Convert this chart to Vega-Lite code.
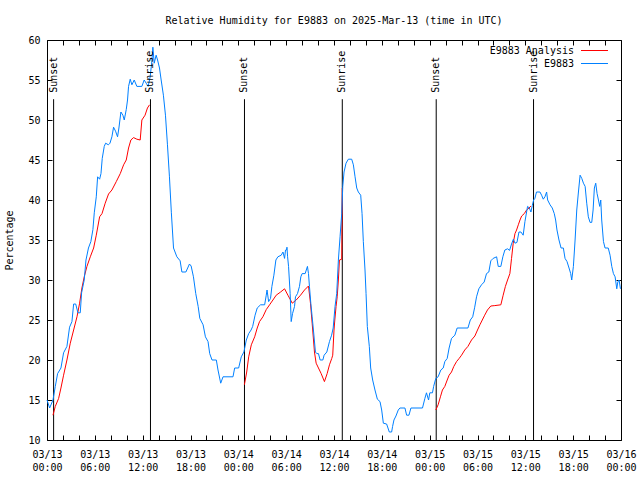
{
 "$schema": "https://vega.github.io/schema/vega-lite/v6.json",
 "width": 574, "height": 400,
 "autosize": {"type": "none"},
 "padding": {"left": 47, "top": 40, "right": 19, "bottom": 40},
 "background": "white",
 "title": {"text": "Relative Humidity for E9883 on 2025-Mar-13 (time in UTC)", "font": "DejaVu Sans Mono", "fontSize": 10, "fontWeight": "normal", "color": "black", "offset": 9, "anchor": "middle"},
 "config": {
  "view": {"stroke": "black", "strokeWidth": 1},
  "axis": {"domain": false, "grid": false, "tickColor": "black", "tickSize": -5, "labelFont": "DejaVu Sans Mono", "labelFontSize": 10, "labelColor": "black", "titleFont": "DejaVu Sans Mono", "titleFontSize": 10, "titleFontWeight": "normal", "titleColor": "black"}
 },
 "datasets": {
  "events": [
   {"h": 0.83, "event": "Sunset"}, {"h": 12.98, "event": "Sunrise"}, {"h": 24.77, "event": "Sunset"},
   {"h": 37.04, "event": "Sunrise"}, {"h": 48.82, "event": "Sunset"}, {"h": 61.03, "event": "Sunrise"}
  ],
  "analysis": [
   {"night":1,"h":0.75,"v":13.1},{"night":1,"h":1.04,"v":14.2},{"night":1,"h":1.46,"v":15.2},{"night":1,"h":1.75,"v":16.5},{"night":1,"h":2.08,"v":18.1},{"night":1,"h":2.5,"v":20},{"night":1,"h":2.92,"v":22.1},{"night":1,"h":3.34,"v":23.75},{"night":1,"h":3.76,"v":25.4},{"night":1,"h":4.09,"v":27.1},{"night":1,"h":4.38,"v":29},{"night":1,"h":4.67,"v":30.4},{"night":1,"h":5.01,"v":31.7},{"night":1,"h":5.43,"v":32.9},{"night":1,"h":5.85,"v":34},{"night":1,"h":6.18,"v":35.6},{"night":1,"h":6.6,"v":37.9},{"night":1,"h":6.9,"v":38.3},{"night":1,"h":7.3,"v":39.6},{"night":1,"h":7.72,"v":40.75},{"night":1,"h":8.14,"v":41.25},{"night":1,"h":8.69,"v":42.3},{"night":1,"h":9.19,"v":43.3},{"night":1,"h":9.61,"v":44.4},{"night":1,"h":9.94,"v":45},{"night":1,"h":10.23,"v":46.5},{"night":1,"h":10.52,"v":47.5},{"night":1,"h":10.86,"v":47.8},{"night":1,"h":11.27,"v":47.6},{"night":1,"h":11.69,"v":47.5},{"night":1,"h":11.9,"v":50},{"night":1,"h":12.3,"v":50.6},{"night":1,"h":12.6,"v":51.5},{"night":1,"h":12.86,"v":51.9},
   {"night":2,"h":24.76,"v":16.9},{"night":2,"h":25.05,"v":18.5},{"night":2,"h":25.3,"v":20.4},{"night":2,"h":25.63,"v":21.9},{"night":2,"h":26.05,"v":22.9},{"night":2,"h":26.37,"v":24},{"night":2,"h":26.66,"v":24.8},{"night":2,"h":27.08,"v":25.4},{"night":2,"h":27.5,"v":26.3},{"night":2,"h":27.92,"v":26.9},{"night":2,"h":28.34,"v":27.5},{"night":2,"h":28.75,"v":28.1},{"night":2,"h":29.3,"v":28.5},{"night":2,"h":29.8,"v":28.9},{"night":2,"h":30.22,"v":28.1},{"night":2,"h":30.55,"v":27.5},{"night":2,"h":30.76,"v":27.1},{"night":2,"h":31.26,"v":27.5},{"night":2,"h":31.8,"v":28.1},{"night":2,"h":32.3,"v":28.75},{"night":2,"h":32.8,"v":29.25},{"night":2,"h":33.05,"v":27.1},{"night":2,"h":33.26,"v":24.6},{"night":2,"h":33.55,"v":21},{"night":2,"h":33.76,"v":19.6},{"night":2,"h":34.05,"v":19},{"night":2,"h":34.39,"v":18.3},{"night":2,"h":34.8,"v":17.3},{"night":2,"h":35.14,"v":18.3},{"night":2,"h":35.43,"v":19.4},{"night":2,"h":35.72,"v":20.2},{"night":2,"h":35.84,"v":20.6},{"night":2,"h":36.0,"v":23.75},{"night":2,"h":36.1,"v":25},{"night":2,"h":36.26,"v":26.7},{"night":2,"h":36.4,"v":27.9},{"night":2,"h":36.55,"v":30},{"night":2,"h":36.68,"v":32.5},{"night":2,"h":36.97,"v":32.6},{"night":2,"h":37.04,"v":41.5},
   {"night":3,"h":48.77,"v":13.75},{"night":3,"h":49.06,"v":14.4},{"night":3,"h":49.35,"v":15.4},{"night":3,"h":49.6,"v":16.25},{"night":3,"h":49.9,"v":16.7},{"night":3,"h":50.2,"v":17.5},{"night":3,"h":50.44,"v":18.1},{"night":3,"h":50.74,"v":18.5},{"night":3,"h":51.03,"v":19.2},{"night":3,"h":51.37,"v":19.8},{"night":3,"h":51.7,"v":20.2},{"night":3,"h":52.0,"v":20.6},{"night":3,"h":52.4,"v":21.25},{"night":3,"h":52.8,"v":21.7},{"night":3,"h":53.25,"v":22.5},{"night":3,"h":53.67,"v":23},{"night":3,"h":54.0,"v":23.75},{"night":3,"h":54.3,"v":24.4},{"night":3,"h":54.6,"v":25},{"night":3,"h":54.9,"v":25.6},{"night":3,"h":55.25,"v":26.25},{"night":3,"h":55.67,"v":26.75},{"night":3,"h":56.17,"v":26.8},{"night":3,"h":56.93,"v":26.9},{"night":3,"h":57.22,"v":28.1},{"night":3,"h":57.5,"v":29.2},{"night":3,"h":57.77,"v":30},{"night":3,"h":58.06,"v":30.8},{"night":3,"h":58.27,"v":32.7},{"night":3,"h":58.48,"v":34.6},{"night":3,"h":58.7,"v":35.8},{"night":3,"h":58.9,"v":36.25},{"night":3,"h":59.12,"v":36.9},{"night":3,"h":59.33,"v":37.5},{"night":3,"h":59.54,"v":38},{"night":3,"h":59.87,"v":38.3},{"night":3,"h":60.16,"v":38.75},{"night":3,"h":60.46,"v":39},{"night":3,"h":60.7,"v":39.25}
  ],
  "obs": [
   {"h":0,"v":15},{"h":0.33,"v":14},{"h":0.75,"v":15},{"h":1.04,"v":16.7},{"h":1.33,"v":18.3},{"h":1.75,"v":19},{"h":2.08,"v":20.9},{"h":2.5,"v":21.7},{"h":2.83,"v":24.1},{"h":3.13,"v":24.8},{"h":3.34,"v":27},{"h":3.6,"v":27},{"h":3.88,"v":25.9},{"h":4.17,"v":25.9},{"h":4.34,"v":28.4},{"h":4.67,"v":30},{"h":4.89,"v":32.5},{"h":5.2,"v":34},{"h":5.5,"v":34.8},{"h":5.76,"v":36.3},{"h":5.93,"v":38.4},{"h":6.18,"v":40.4},{"h":6.35,"v":42.9},{"h":6.6,"v":42.6},{"h":6.77,"v":43.3},{"h":6.93,"v":45.2},{"h":7.18,"v":46.7},{"h":7.35,"v":47.1},{"h":7.7,"v":46.9},{"h":7.9,"v":47.1},{"h":8.14,"v":47.9},{"h":8.35,"v":49.1},{"h":8.6,"v":48.6},{"h":8.85,"v":47.9},{"h":9.02,"v":49},{"h":9.27,"v":51},{"h":9.52,"v":50.6},{"h":9.69,"v":50},{"h":9.94,"v":51.3},{"h":10.1,"v":52.5},{"h":10.23,"v":54.2},{"h":10.44,"v":55.1},{"h":10.65,"v":54.4},{"h":10.94,"v":55},{"h":11.27,"v":54.2},{"h":11.9,"v":54.2},{"h":12.19,"v":55},{"h":12.44,"v":54.6},{"h":12.69,"v":54.2},{"h":12.94,"v":55.4},{"h":13.15,"v":57.3},{"h":13.28,"v":59.1},{"h":13.45,"v":57.1},{"h":13.69,"v":58.1},{"h":13.87,"v":57.5},{"h":14.11,"v":56.5},{"h":14.32,"v":55},{"h":14.6,"v":53.1},{"h":14.86,"v":50.6},{"h":15.11,"v":46.9},{"h":15.36,"v":42.9},{"h":15.6,"v":38.4},{"h":15.87,"v":34},{"h":16.29,"v":32.9},{"h":16.7,"v":32.4},{"h":16.92,"v":31},{"h":17.42,"v":31},{"h":17.87,"v":32},{"h":18.08,"v":31.75},{"h":18.37,"v":30.4},{"h":18.66,"v":28.3},{"h":18.96,"v":26.7},{"h":19.17,"v":25.2},{"h":19.58,"v":24.4},{"h":19.87,"v":22.9},{"h":20.2,"v":22.3},{"h":20.41,"v":20.8},{"h":20.7,"v":20},{"h":21.24,"v":20},{"h":21.45,"v":18.75},{"h":21.79,"v":17.1},{"h":22.08,"v":17.9},{"h":23.33,"v":17.9},{"h":23.54,"v":19},{"h":24.04,"v":19},{"h":24.37,"v":20.4},{"h":24.7,"v":21},{"h":25,"v":22.5},{"h":25.3,"v":23.3},{"h":25.6,"v":23.75},{"h":25.8,"v":24.2},{"h":26.1,"v":25.6},{"h":26.37,"v":26.5},{"h":26.79,"v":26.9},{"h":27.3,"v":26.9},{"h":27.5,"v":28.1},{"h":27.6,"v":28.75},{"h":27.8,"v":27.3},{"h":28.04,"v":27.7},{"h":28.21,"v":29.2},{"h":28.46,"v":30.6},{"h":28.71,"v":32.5},{"h":28.96,"v":32.9},{"h":29.38,"v":33.1},{"h":29.6,"v":33.5},{"h":29.8,"v":32.7},{"h":29.92,"v":33.75},{"h":30.05,"v":33.75},{"h":30.1,"v":34.1},{"h":30.18,"v":32.9},{"h":30.3,"v":31.7},{"h":30.5,"v":28.3},{"h":30.63,"v":24.8},{"h":30.8,"v":25.8},{"h":31.05,"v":26.7},{"h":31.17,"v":27.9},{"h":31.42,"v":28.3},{"h":31.67,"v":29.2},{"h":31.84,"v":30.4},{"h":32,"v":30.8},{"h":32.38,"v":30.8},{"h":32.67,"v":31.7},{"h":32.8,"v":30.8},{"h":32.92,"v":29.2},{"h":33.09,"v":27.1},{"h":33.26,"v":25.4},{"h":33.42,"v":23.75},{"h":33.67,"v":21},{"h":33.84,"v":20.8},{"h":34.05,"v":20.8},{"h":34.26,"v":20},{"h":34.6,"v":20},{"h":34.76,"v":20.6},{"h":35.1,"v":21},{"h":35.43,"v":22.3},{"h":35.7,"v":23.1},{"h":35.9,"v":24},{"h":36.13,"v":26.7},{"h":36.34,"v":28.3},{"h":36.55,"v":32.5},{"h":36.76,"v":35.4},{"h":36.97,"v":38.3},{"h":37.1,"v":41.7},{"h":37.26,"v":43.5},{"h":37.51,"v":44.6},{"h":37.8,"v":45.1},{"h":38.22,"v":45.1},{"h":38.43,"v":44.4},{"h":38.64,"v":42.9},{"h":38.85,"v":41.5},{"h":39.05,"v":41},{"h":39.35,"v":40.6},{"h":39.52,"v":38.3},{"h":39.68,"v":34.8},{"h":39.89,"v":31.25},{"h":40.02,"v":28.3},{"h":40.18,"v":24.2},{"h":40.43,"v":21.7},{"h":40.6,"v":19},{"h":40.85,"v":17.5},{"h":41.14,"v":16.25},{"h":41.44,"v":15.1},{"h":41.77,"v":14.8},{"h":41.98,"v":13.75},{"h":42.19,"v":12.1},{"h":42.6,"v":12},{"h":42.94,"v":11},{"h":43.23,"v":11},{"h":43.35,"v":11.7},{"h":43.52,"v":12.5},{"h":43.77,"v":13},{"h":44.06,"v":13.75},{"h":44.27,"v":14},{"h":44.9,"v":14},{"h":45.11,"v":13.1},{"h":45.4,"v":13.1},{"h":45.65,"v":14},{"h":47.1,"v":14},{"h":47.4,"v":15.2},{"h":47.6,"v":15.9},{"h":47.86,"v":15},{"h":48.02,"v":15.9},{"h":48.35,"v":15.9},{"h":48.5,"v":16.7},{"h":48.77,"v":17.7},{"h":49.06,"v":17.9},{"h":49.4,"v":18.75},{"h":49.7,"v":19},{"h":49.9,"v":19.8},{"h":50.2,"v":20.2},{"h":50.44,"v":21.5},{"h":50.74,"v":22.7},{"h":51.16,"v":23.1},{"h":51.45,"v":24},{"h":52.8,"v":24},{"h":53.1,"v":25},{"h":53.4,"v":25.4},{"h":53.65,"v":26.6},{"h":53.88,"v":27.9},{"h":54.17,"v":28.9},{"h":54.5,"v":29.4},{"h":54.84,"v":29.75},{"h":55.13,"v":30.8},{"h":55.42,"v":31},{"h":55.67,"v":32.4},{"h":55.96,"v":32.7},{"h":56.4,"v":32.9},{"h":56.6,"v":31.7},{"h":56.93,"v":31.7},{"h":57.18,"v":32.9},{"h":57.43,"v":33.75},{"h":57.77,"v":33.9},{"h":58.02,"v":33.7},{"h":58.27,"v":34.5},{"h":58.5,"v":35.1},{"h":58.7,"v":34.6},{"h":58.95,"v":34.7},{"h":59.2,"v":36},{"h":59.45,"v":36},{"h":59.73,"v":35.6},{"h":59.95,"v":37.3},{"h":60.16,"v":38.5},{"h":60.28,"v":39.2},{"h":60.5,"v":39},{"h":60.7,"v":38.5},{"h":60.87,"v":39.3},{"h":61.04,"v":40},{"h":61.2,"v":40.2},{"h":61.4,"v":41},{"h":61.83,"v":41},{"h":62.04,"v":40.6},{"h":62.25,"v":40.1},{"h":62.46,"v":40.4},{"h":62.67,"v":41},{"h":62.8,"v":40},{"h":63.1,"v":39.4},{"h":63.38,"v":39},{"h":63.63,"v":38.3},{"h":63.8,"v":37.5},{"h":63.97,"v":36.25},{"h":64.22,"v":35},{"h":64.48,"v":34},{"h":64.77,"v":34},{"h":64.98,"v":32.7},{"h":65.23,"v":32.3},{"h":65.48,"v":31.5},{"h":65.69,"v":30.8},{"h":65.82,"v":30},{"h":66.03,"v":31.7},{"h":66.24,"v":35},{"h":66.45,"v":38.75},{"h":66.66,"v":41},{"h":66.87,"v":43.1},{"h":67.08,"v":42.7},{"h":67.29,"v":42.1},{"h":67.5,"v":41.7},{"h":67.7,"v":39.6},{"h":67.9,"v":37.9},{"h":68.12,"v":37.2},{"h":68.33,"v":37.2},{"h":68.5,"v":38.75},{"h":68.66,"v":41.5},{"h":68.83,"v":42.1},{"h":69.0,"v":40.8},{"h":69.17,"v":40},{"h":69.33,"v":39.2},{"h":69.46,"v":40},{"h":69.58,"v":37.5},{"h":69.8,"v":34.8},{"h":70.0,"v":34},{"h":70.4,"v":34},{"h":70.63,"v":33.1},{"h":70.84,"v":31.7},{"h":71.05,"v":30.8},{"h":71.26,"v":30.4},{"h":71.47,"v":28.9},{"h":71.6,"v":29.75},{"h":71.76,"v":30},{"h":71.93,"v":28.9}
  ]
 },
 "layer": [
  {
   "data": {"name": "events"},
   "mark": {"type": "rule", "color": "black", "strokeWidth": 1},
   "encoding": {
    "x": {"field": "h", "type": "quantitative", "scale": {"domain": [0, 72], "nice": false, "zero": false},
          "axis": {"orient": "top", "values": [0,2,4,6,8,10,12,14,16,18,20,22,24,26,28,30,32,34,36,38,40,42,44,46,48,50,52,54,56,58,60,62,64,66,68,70,72], "labels": false, "title": null}},
    "y": {"datum": 10, "type": "quantitative", "scale": {"domain": [10, 60], "nice": false, "zero": false},
          "axis": {"orient": "right", "values": [10,15,20,25,30,35,40,45,50,55,60], "labels": false, "title": null}},
    "y2": {"datum": 52.6}
   }
  },
  {
   "data": {"name": "analysis"},
   "mark": {"type": "line", "strokeWidth": 1, "interpolate": "linear"},
   "encoding": {
    "x": {"field": "h", "type": "quantitative", "scale": {"domain": [0, 72], "nice": false, "zero": false},
          "axis": {"orient": "bottom", "title": null, "values": [0,2,4,6,8,10,12,14,16,18,20,22,24,26,28,30,32,34,36,38,40,42,44,46,48,50,52,54,56,58,60,62,64,66,68,70,72],
                   "labelExpr": "datum.value % 6 == 0 ? ['03/' + (13 + floor(datum.value / 24)), (datum.value % 24 < 10 ? '0' : '') + (datum.value % 24) + ':00'] : ''",
                   "labelOverlap": false, "labelFlush": false, "labelBound": false, "labelPadding": 14, "labelLineHeight": 13}},
    "y": {"field": "v", "type": "quantitative", "scale": {"domain": [10, 60], "nice": false, "zero": false},
          "axis": {"orient": "left", "title": "Percentage", "values": [10,15,20,25,30,35,40,45,50,55,60], "labelPadding": 12, "titlePadding": 13}},
    "detail": {"field": "night"},
    "color": {"datum": "E9883 Analysis", "type": "nominal",
              "scale": {"domain": ["E9883 Analysis", "E9883"], "range": ["#ff0000", "#0080ff"]},
              "legend": {"title": null, "orient": "none", "legendX": 540, "legendY": 3, "symbolType": "M-2,0H2", "symbolSize": 182, "symbolStrokeWidth": 1, "symbolFillColor": "transparent",
                         "labelFont": "DejaVu Sans Mono", "labelFontSize": 10, "labelColor": "black", "labelAlign": "right", "labelOffset": -28, "rowPadding": 0, "padding": 0}}
   }
  },
  {
   "data": {"name": "obs"},
   "mark": {"type": "line", "strokeWidth": 1, "interpolate": "linear"},
   "encoding": {
    "x": {"field": "h", "type": "quantitative", "scale": {"domain": [0, 72], "nice": false, "zero": false}, "axis": null},
    "y": {"field": "v", "type": "quantitative", "scale": {"domain": [10, 60], "nice": false, "zero": false}, "axis": null},
    "color": {"datum": "E9883", "type": "nominal"}
   }
  },
  {
   "data": {"name": "events"},
   "mark": {"type": "text", "angle": 270, "align": "left", "baseline": "middle", "font": "DejaVu Sans Mono", "fontSize": 10, "color": "black"},
   "encoding": {
    "x": {"field": "h", "type": "quantitative", "scale": {"domain": [0, 72], "nice": false, "zero": false}, "axis": null},
    "y": {"datum": 53.4, "type": "quantitative", "scale": {"domain": [10, 60], "nice": false, "zero": false}, "axis": null},
    "text": {"field": "event"}
   }
  }
 ],
 "resolve": {"axis": {"x": "independent", "y": "independent"}}
}
